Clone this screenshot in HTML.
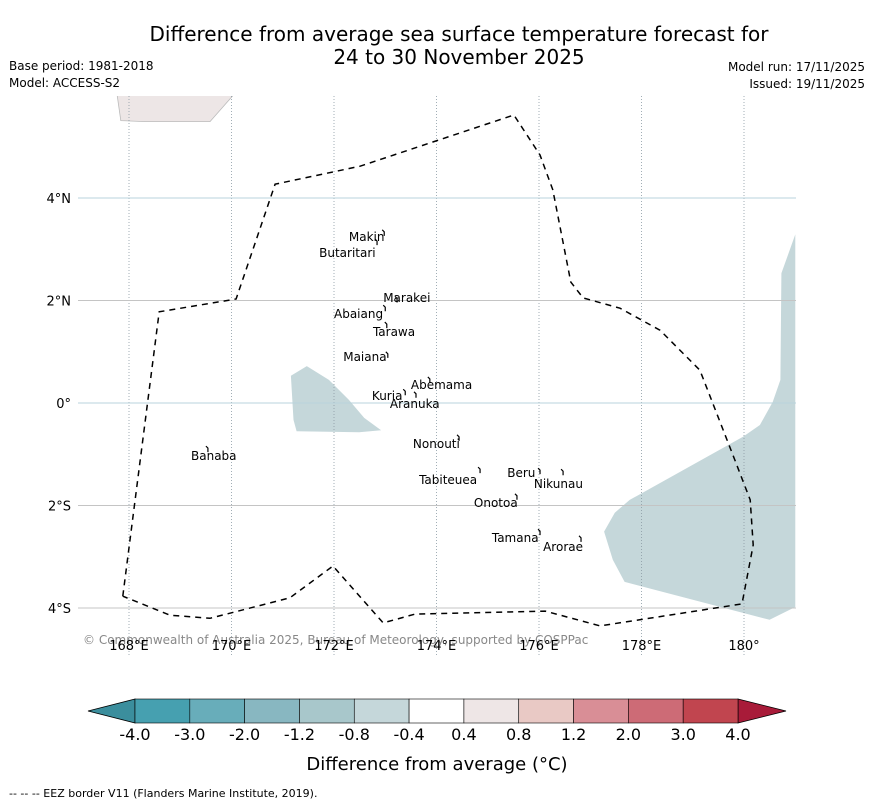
<!DOCTYPE html>
<html><head><meta charset="utf-8"><style>
body{margin:0;background:#fff;}
svg text{font-family:"DejaVu Sans","Liberation Sans",sans-serif;}
</style></head><body>
<svg id="chart" width="873" height="804" xmlns="http://www.w3.org/2000/svg">
<rect width="873" height="804" fill="#fff"/>
<text x="459" y="41" font-size="20" text-anchor="middle">Difference from average sea surface temperature forecast for</text>
<text x="459" y="64" font-size="20" text-anchor="middle">24 to 30 November 2025</text>
<text x="9" y="70" font-size="12">Base period: 1981-2018</text>
<text x="9" y="87" font-size="12">Model: ACCESS-S2</text>
<text x="865" y="71" font-size="12" text-anchor="end">Model run: 17/11/2025</text>
<text x="865" y="88" font-size="12" text-anchor="end">Issued: 19/11/2025</text>
<g id="map"></g>
<g id="cbar"></g>
<text x="437" y="770" font-size="18" text-anchor="middle">Difference from average (°C)</text>
<text x="9" y="797" font-size="11">--  --  -- EEZ border V11 (Flanders Marine Institute, 2019).</text>
</svg>
<script>
const lonTicks=[168,170,172,174,176,178,180];
const lonLabels=["168°E","170°E","172°E","174°E","176°E","178°E","180°"];
const latTicks=[4,2,0,-2,-4];
const latLabels=["4°N","2°N","0°","2°S","4°S"];
const eez=[[167.88,-3.77],[168.59,1.78],[170.09,2.03],[170.85,4.27],[172.51,4.62],[175.51,5.62],[176.02,4.84],[176.27,4.16],[176.62,2.36],[176.86,2.05],[177.58,1.85],[178.36,1.42],[179.14,0.64],[179.82,-1.11],[180.12,-1.89],[180.18,-2.77],[179.96,-3.92],[177.19,-4.35],[176.12,-4.06],[173.58,-4.12],[172.96,-4.29],[171.98,-3.18],[171.14,-3.80],[169.58,-4.20],[168.8,-4.14],[167.88,-3.77]];
const anomEast=[[181.0,3.29],[180.73,2.53],[180.71,0.45],[180.56,0.02],[180.31,-0.43],[179.98,-0.66],[177.77,-1.89],[177.48,-2.14],[177.27,-2.51],[177.44,-3.06],[177.67,-3.49],[180.5,-4.23],[181.0,-3.98]];
const anomWest=[[171.16,0.53],[171.47,0.72],[171.9,0.45],[172.29,0.06],[172.59,-0.29],[172.92,-0.53],[172.49,-0.57],[171.27,-0.55],[171.21,-0.33]];
const land=[[167.77,6.0],[167.84,5.51],[168.31,5.49],[169.58,5.49],[170.03,6.0]];
const islandNames=["Makin","Butaritari","Marakei","Abaiang","Tarawa","Maiana","Abemama","Kuria","Aranuka","Nonouti","Banaba","Beru","Nikunau","Tabiteuea","Onotoa","Tamana","Arorae"];
const islandLon=[172.98,172.84,173.23,173.0,173.03,173.05,173.87,173.39,173.6,174.44,169.54,176.02,176.47,174.85,175.57,176.02,176.82];
const islandLat=[3.32,3.14,2.02,1.85,1.52,0.94,0.45,0.21,0.16,-0.68,-0.9,-1.33,-1.35,-1.31,-1.83,-2.52,-2.65];
const labelLon=[172.29,171.71,172.96,172.0,172.76,172.18,173.5,172.74,173.09,173.54,169.21,175.38,175.9,173.66,174.73,175.08,176.08];
const labelLat=[3.24,2.93,2.05,1.74,1.39,0.90,0.35,0.14,-0.02,-0.80,-1.03,-1.37,-1.58,-1.50,-1.95,-2.63,-2.81];
const cbLevels=["-4.0","-3.0","-2.0","-1.2","-0.8","-0.4","0.4","0.8","1.2","2.0","3.0","4.0"];
const cbColors=["#46a0b0","#68adba","#88b7c1","#a8c7cb","#c5d7da","#ffffff","#eee6e6","#e9c9c5","#d98e96","#cd6b76","#c1454f"];
const NS="http://www.w3.org/2000/svg";
const x=lon=>129+(lon-168)*51.25;
const y=lat=>403-lat*51.25;
function mk(t,a,p){const e=document.createElementNS(NS,t);for(const k in a)e.setAttribute(k,a[k]);p.appendChild(e);return e;}
const map=document.getElementById('map');
const clip=mk('clipPath',{id:'mc'},map);mk('rect',{x:78,y:96,width:718,height:559},clip);
const g=mk('g',{'clip-path':'url(#mc)'},map);
const pts=a=>a.map(p=>x(p[0]).toFixed(1)+','+y(p[1]).toFixed(1)).join(' ');
let e;
e=mk('polygon',{points:pts(land),fill:'#ede6e6',stroke:'#bbb','stroke-width':0.8},g);


e=mk('polygon',{points:pts(anomEast),fill:'#c5d7da'},g);


e=mk('polygon',{points:pts(anomWest),fill:'#c5d7da'},g);


lonTicks.forEach((v,i)=>{
 e=mk('line',{x1:x(v),x2:x(v),y1:96,y2:655,stroke:'#8a9aa4','stroke-width':0.8,'stroke-dasharray':'1,2'},g);
 
 
 e=mk('text',{x:x(v),y:650,'font-size':13,'text-anchor':'middle'},map);e.textContent=lonLabels[i];
 
 
});
latTicks.forEach((v,i)=>{
 e=mk('line',{x1:78,x2:796,y1:y(v),y2:y(v),stroke:(v===4||v===0)?'#b9d3dc':'#c4c4c4','stroke-width':1},g);
 
 
 e=mk('text',{x:71,y:y(v)+5,'font-size':13,'text-anchor':'end'},map);e.textContent=latLabels[i];
 
 
});
e=mk('polyline',{points:pts(eez),fill:'none',stroke:'#000','stroke-width':1.5,'stroke-dasharray':'6,5'},g);


islandNames.forEach((n,i)=>{
 const px=x(islandLon[i]),py=y(islandLat[i]);
 e=mk('path',{d:`M${px-2},${py-3} l2,2 l0,4`,stroke:'#000','stroke-width':1.2,fill:'none'},g);
 
 
 e=mk('text',{x:x(labelLon[i]),y:y(labelLat[i])+4,'font-size':12,'text-anchor':'start'},g);e.textContent=n;
 
 
});
e=mk('text',{x:83,y:644,'font-size':12,fill:'#888'},g);
e.textContent='© Commonwealth of Australia 2025, Bureau of Meteorology, supported by COSPPac';


const cb=document.getElementById('cbar');
const cx0=135,cx1=738,cy0=699,cy1=723,bw=(cx1-cx0)/cbColors.length;
e=mk('polygon',{points:`88,711 ${cx0},${cy0} ${cx0},${cy1}`,fill:'#3b8e9d',stroke:'#000','stroke-width':0.8},cb);


e=mk('polygon',{points:`786,711 ${cx1},${cy0} ${cx1},${cy1}`,fill:'#a81b39',stroke:'#000','stroke-width':0.8},cb);


cbColors.forEach((c,i)=>{
 e=mk('rect',{x:cx0+i*bw,y:cy0,width:bw,height:cy1-cy0,fill:c,stroke:'#000','stroke-width':0.6},cb);
 
 
});
cbLevels.forEach((l,i)=>{
 e=mk('text',{x:cx0+i*bw,y:740,'font-size':16,'text-anchor':'middle'},cb);e.textContent=l;
 
 
});
</script>
</body></html>
